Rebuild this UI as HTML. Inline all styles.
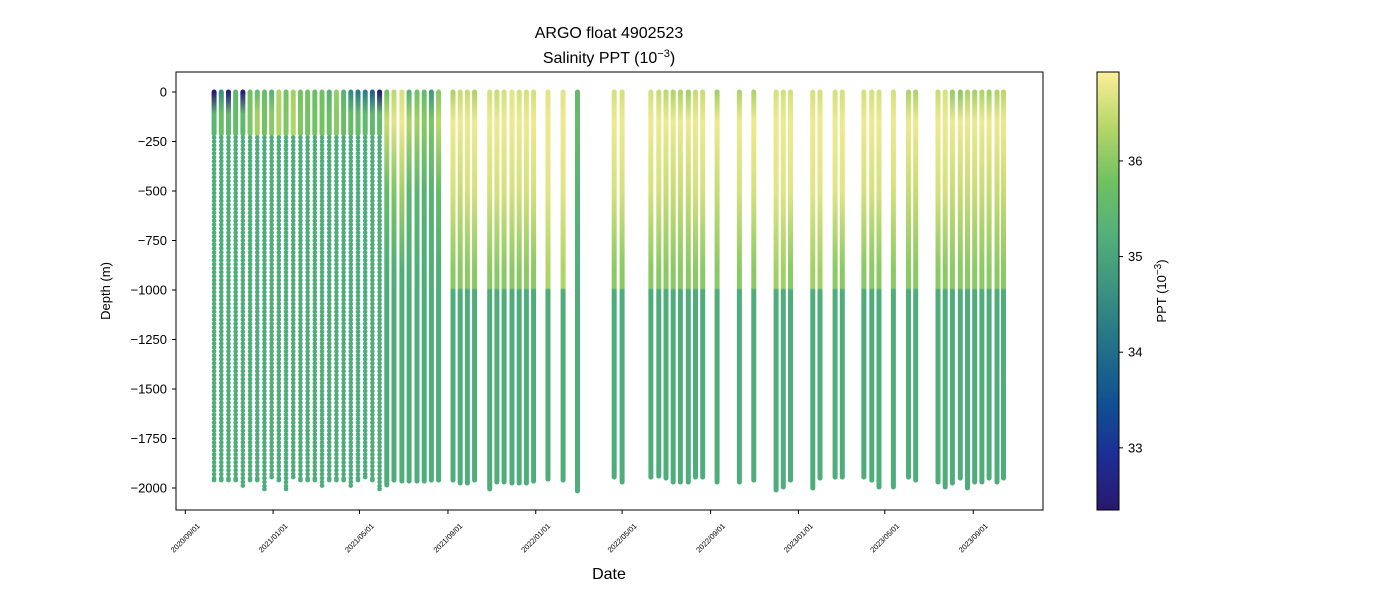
<!DOCTYPE html>
<html><head><meta charset="utf-8"><style>
html,body{margin:0;padding:0;background:#fff;}
svg{display:block;font-family:"Liberation Sans","DejaVu Sans",sans-serif;}
</style></head><body>
<svg id="chart" width="1400" height="600" viewBox="0 0 1400 600" xmlns="http://www.w3.org/2000/svg">
<defs id="defs"></defs>
<text x="609" y="38" text-anchor="middle" font-size="16" fill="#000">ARGO float 4902523</text>
<text x="609" y="63" text-anchor="middle" font-size="16" fill="#000">Salinity PPT (10<tspan dy="-6" font-size="11">−3</tspan><tspan dy="6">)</tspan></text>
<g id="marks"></g>
<rect x="176" y="72" width="867" height="438" fill="none" stroke="#000" stroke-width="1"/>
<g id="yaxis"></g>
<g id="xaxis"></g>
<text transform="translate(110,291) rotate(-90)" text-anchor="middle" font-size="13">Depth (m)</text>
<text x="609" y="579" text-anchor="middle" font-size="16">Date</text>
<g id="cbar"></g>
<text transform="translate(1166,291) rotate(-90)" text-anchor="middle" font-size="13">PPT (10<tspan dy="-5" font-size="10">−3</tspan><tspan dy="5">)</tspan></text>
</svg>
<script>
// profile dates: days since 2020-09-01
const profileDays = [40,50,60,70,80,90,100,110,120,130,140,150,160,170,180,190,200,210,220,230,240,250,260,270,
280,290,301,311,322,332,342,352,
372,382,392,402,423,433,443,454,464,474,484,504,525,545,596,607,647,658,668,678,688,699,709,719,739,770,790,821,831,841,872,882,903,913,943,954,964,984,1005,1015,1046,1056,1066,1077,1087,1097,1107,1117,1128,1137];
const dottedCount = 24;
const maxDepth = [1960,1960,1960,1960,1988,1960,1960,2005,1945,1960,2005,1945,1960,1960,1960,1988,1960,1960,1960,1988,1960,1945,1960,2005,
1985,1960,1965,1965,1965,1965,1960,1960,
1960,1975,1975,1960,2005,1970,1970,1975,1975,1975,1965,1955,1960,2015,1945,1970,1945,1940,1950,1970,1970,1970,1945,1945,1970,1970,1960,2010,1995,1960,2000,1950,1945,1945,1945,1960,1995,1995,1945,1960,1970,1995,1975,1950,2000,1970,1970,1950,1970,1950];
const surfSal = [32.4,34.6,32.6,35.5,32.5,35.8,35.6,35.7,35.3,36.3,35.8,36.2,35.8,35.8,35.7,35.8,35.3,36.1,35.3,34.5,34.2,34.3,33.8,32.5,
35.8,36.4,36.6,35.3,35.8,35.6,34.8,36.0,
36.3,36.5,36.5,36.3,36.6,36.5,36.6,36.7,36.6,36.6,36.6,36.7,36.7,35.5,36.6,36.6,36.6,36.5,36.4,36.3,36.3,36.2,36.5,36.5,36.2,36.3,36.3,36.6,36.6,36.6,36.6,36.6,36.6,36.6,36.6,36.6,36.6,36.6,36.3,36.3,36.5,36.6,36.1,36.0,36.3,36.2,36.3,36.2,36.3,36.4];
const upperSal = [35.4,35.7,35.5,35.6,35.5,35.9,36.2,35.8,36.0,36.3,35.9,36.3,35.9,35.8,35.8,35.8,35.7,36.0,35.7,35.6,35.6,35.5,35.5,35.6,
36.5,36.7,36.8,36.3,36.2,36.0,35.9,36.4,
36.8,36.8,36.8,36.8,36.8,36.8,36.8,36.8,36.8,36.8,36.8,36.8,36.8,35.6,36.8,36.8,36.8,36.8,36.8,36.8,36.8,36.8,36.8,36.8,36.8,36.8,36.8,36.8,36.8,36.8,36.8,36.8,36.8,36.8,36.8,36.8,36.8,36.8,36.8,36.8,36.8,36.8,36.8,36.8,36.8,36.8,36.8,36.8,36.8,36.8];
const midSal = [35.15,35.15,35.15,35.15,35.15,35.15,35.15,35.15,35.15,35.15,35.15,35.15,35.15,35.15,35.15,35.15,35.15,35.15,35.15,35.15,35.15,35.15,35.15,35.15,
35.6,35.9,36.2,35.4,35.4,35.3,35.3,35.6,
36.6,36.5,36.6,36.6,36.6,36.6,36.6,36.6,36.6,36.6,36.6,36.7,36.7,35.3,36.6,36.6,36.6,36.6,36.5,36.5,36.5,36.5,36.6,36.6,36.5,36.6,36.6,36.7,36.7,36.7,36.7,36.7,36.7,36.7,36.6,36.6,36.6,36.6,36.5,36.5,36.6,36.6,36.5,36.5,36.5,36.5,36.5,36.5,36.5,36.5];
const lowerSal = [35.15,35.15,35.15,35.15,35.15,35.15,35.15,35.15,35.15,35.15,35.15,35.15,35.15,35.15,35.15,35.15,35.15,35.15,35.15,35.15,35.15,35.15,35.15,35.15,
35.2,35.2,35.2,35.2,35.2,35.2,35.2,35.2,
36.0,36.0,36.0,36.0,36.0,36.0,36.0,36.0,36.0,36.0,36.0,36.3,36.3,35.2,36.0,36.0,36.0,36.0,36.0,36.0,36.0,36.0,36.0,36.0,36.0,36.0,36.0,36.2,36.2,36.0,36.2,36.2,36.0,36.0,36.0,36.0,36.0,36.0,36.0,36.0,36.0,36.0,36.0,36.0,36.0,36.0,36.0,36.0,36.0,36.0];
const deepSal = 35.15;
const yTicks = [0,-250,-500,-750,-1000,-1250,-1500,-1750,-2000];
const xTickDays = [0,122,242,365,487,607,730,852,972,1095];
const xTickLabels = ["2020/09/01","2021/01/01","2021/05/01","2021/09/01","2022/01/01","2022/05/01","2022/09/01","2023/01/01","2023/05/01","2023/09/01"];
const cbarTicks = [33,34,35,36];
const cbarMin = 32.35, cbarMax = 36.93;

const NS = "http://www.w3.org/2000/svg";
const xDay = d => 185.3 + d * 0.7196;
const yDepth = m => 92 + m * 0.198;
const yVal = v => 92 - v * 0.198;
const cStops = [[0,[42,24,108]],[0.125,[28,46,150]],[0.25,[16,82,145]],[0.375,[34,114,136]],[0.5,[58,146,128]],[0.625,[82,175,122]],[0.75,[112,193,98]],[0.875,[182,214,104]],[1,[253,239,154]]];
function cmap(s){
  let t = (s - cbarMin) / (cbarMax - cbarMin); t = Math.max(0, Math.min(1, t));
  for (let i = 1; i < cStops.length; i++) {
    if (t <= cStops[i][0]) {
      const a = cStops[i-1], b = cStops[i], f = (t - a[0]) / (b[0] - a[0]);
      const c = a[1].map((v, k) => Math.round(v + (b[1][k] - v) * f));
      return `rgb(${c[0]},${c[1]},${c[2]})`;
    }
  }
  return "rgb(253,239,154)";
}
function mk(tag, attrs, parent){ const e = document.createElementNS(NS, tag); for (const k in attrs) e.setAttribute(k, attrs[k]); parent.appendChild(e); return e; }

const defs = document.getElementById('defs');
const marks = document.getElementById('marks');
profileDays.forEach((d, i) => {
  const x = xDay(d);
  const md = maxDepth[i];
  const dotted = i < dottedCount;
  const gid = 'g' + i;
  const g = mk('linearGradient', {id: gid, gradientUnits: 'userSpaceOnUse', x1: x, x2: x, y1: yDepth(0), y2: yDepth(dotted ? 210 : md)}, defs);
  const total = dotted ? 210 : md;
  const stops = dotted
    ? [[0, surfSal[i]], [110, upperSal[i]], [210, upperSal[i]]]
    : [[0, surfSal[i]], [150, upperSal[i]], [500, midSal[i]], [900, lowerSal[i]], [990, lowerSal[i]], [1000, deepSal], [md, deepSal]];
  stops.forEach(s => mk('stop', {offset: Math.min(1, s[0] / total), 'stop-color': cmap(s[1])}, g));
  const line = mk('line', {x1: x, x2: x, y1: yDepth(0), y2: yDepth(total), stroke: `url(#${gid})`, 'stroke-width': 5, 'stroke-linecap': 'round'}, marks);
  
  
  if (dotted) {
    for (let m = 230; m <= md; m += 20) {
      const c = mk('circle', {cx: x, cy: yDepth(m), r: 2.3, fill: cmap(deepSal)}, marks);
      
      
    }
    const c = mk('circle', {cx: x, cy: yDepth(md), r: 2.3, fill: cmap(deepSal)}, marks);
    
    
  }
});

const yax = document.getElementById('yaxis');
yTicks.forEach(v => {
  const y = yVal(v);
  const t = mk('line', {x1: 172, x2: 176, y1: y, y2: y, stroke: '#000', 'stroke-width': 1}, yax);
  
  
  const l = mk('text', {x: 167, y: y + 4.5, 'text-anchor': 'end', 'font-size': 13}, yax);
  l.textContent = v === 0 ? '0' : '−' + Math.abs(v);
  
  
});
const xax = document.getElementById('xaxis');
xTickDays.forEach((d, i) => {
  const x = xDay(d);
  const t = mk('line', {x1: x, x2: x, y1: 510, y2: 514, stroke: '#000', 'stroke-width': 1}, xax);
  
  
  const l = mk('text', {transform: `translate(${x},${538}) rotate(-45)`, 'text-anchor': 'middle', 'font-size': 7.5, dy: 2.5}, xax);
  l.textContent = xTickLabels[i];
  
  
});

const cb = document.getElementById('cbar');
const cg = mk('linearGradient', {id: 'cbg', x1: 0, x2: 0, y1: 1, y2: 0}, defs);
cStops.forEach(s => mk('stop', {offset: s[0], 'stop-color': `rgb(${s[1].join(',')})`}, cg));
const cr = mk('rect', {x: 1097, y: 72, width: 22, height: 438, fill: 'url(#cbg)', stroke: '#000', 'stroke-width': 1}, cb);


const cbY = v => 510 - (v - cbarMin) / (cbarMax - cbarMin) * 438;
cbarTicks.forEach(v => {
  const y = cbY(v);
  const t = mk('line', {x1: 1119, x2: 1123, y1: y, y2: y, stroke: '#000', 'stroke-width': 1}, cb);
  
  
  const l = mk('text', {x: 1128, y: y + 4.5, 'font-size': 13}, cb);
  l.textContent = String(v);
  
  
});
</script>
</body></html>
